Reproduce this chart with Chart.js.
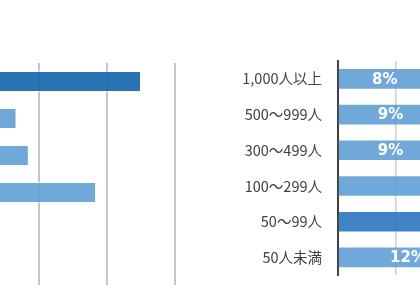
<!DOCTYPE html>
<html>
<head>
<meta charset="utf-8">
<script src="https://cdn.jsdelivr.net/npm/chart.js@4"></script>
<style>
html,body{margin:0;padding:0;background:#fff;overflow:hidden;width:420px;height:300px;}
canvas{position:absolute;top:0;}
#left{left:-110px;}
#right{left:200px;}
</style>
</head>
<body>
<canvas id="left" width="300" height="300" style="width:300px;height:300px"></canvas>
<canvas id="right" width="486" height="300" style="width:486px;height:300px"></canvas>
<script>
const categories = ["1,000人以上", "500～999人", "300～499人", "100～299人", "50～99人", "50人未満"];
const leftValues = [35, 16.7, 18.5, 28.4, 12, 9];
const rightValues = [8, 9, 9, 21, 28, 12];
const leftTicks = [0, 10, 20, 30, 40];
const rightTicks = [0, 5, 10, 15, 20, 25, 30];

function isMax(ctx, arr){ return arr[ctx.dataIndex] === Math.max(...arr); }

new Chart(document.getElementById('left'), {
  type: 'bar',
  data: { labels: categories, datasets: [{ data: leftValues,
    backgroundColor: c => isMax(c, leftValues) ? 'rgba(23,102,174,0.92)' : 'rgba(96,158,214,0.9)',
    borderColor: 'rgba(255,255,255,0.55)', borderWidth: 1, borderSkipped: false,
    barPercentage: 0.57, categoryPercentage: 1 }] },
  options: {
    indexAxis: 'y', responsive: false, animation: false, devicePixelRatio: 1,
    layout: { padding: { left: 13, right: 15, top: 63, bottom: 15 } },
    plugins: { legend: { display: false }, tooltip: { enabled: false } },
    scales: {
      x: { min: leftTicks[0], max: leftTicks[leftTicks.length-1],
           afterBuildTicks: s => { s.ticks = leftTicks.map(v => ({ value: v })); },
           afterFit: s => { s.height = 0; },
           ticks: { display: false }, border: { display: false },
           grid: { color: '#c6c6c6', lineWidth: 2, drawTicks: false } },
      y: { display: false }
    }
  }
});

const labelPlugin = {
  id: 'barLabels',
  afterDatasetsDraw(chart) {
    const ctx = chart.ctx;
    const meta = chart.getDatasetMeta(0);
    ctx.save();
    ctx.fillStyle = '#ffffff';
    ctx.font = 'bold 15px "DejaVu Sans"';
    ctx.textAlign = 'center';
    ctx.textBaseline = 'middle';
    meta.data.forEach((el, i) => {
      const x = (el.x + el.base) / 2;
      ctx.fillText(rightValues[i] + '%', x, el.y + 1);
    });
    ctx.restore();
  }
};

new Chart(document.getElementById('right'), {
  type: 'bar',
  data: { labels: categories, datasets: [{ data: rightValues,
    backgroundColor: c => isMax(c, rightValues) ? 'rgba(49,122,192,0.92)' : 'rgba(96,158,214,0.9)',
    borderWidth: 0, barPercentage: 0.55, categoryPercentage: 1 }] },
  options: {
    indexAxis: 'y', responsive: false, animation: false, devicePixelRatio: 1,
    layout: { padding: { left: 0, right: 0, top: 61, bottom: 19 } },
    plugins: { legend: { display: false }, tooltip: { enabled: false } },
    scales: {
      x: { min: rightTicks[0], max: rightTicks[rightTicks.length-1],
           afterBuildTicks: s => { s.ticks = rightTicks.map(v => ({ value: v })); },
           afterFit: s => { s.height = 0; },
           ticks: { display: false }, border: { display: false },
           grid: { color: c => c.tick && c.tick.value === 0 ? 'rgba(0,0,0,0)' : '#cfcfcf', lineWidth: 1.5, drawTicks: false } },
      y: { afterFit: s => { s.width = 138; },
           ticks: { color: '#404040', padding: 16, font: { family: '"Noto Sans CJK JP", "Noto Sans", sans-serif', size: 14.5 } },
           border: { display: true, color: '#404040', width: 2 },
           grid: { display: false, drawTicks: false } }
    }
  },
  plugins: [labelPlugin]
});
</script>
</body>
</html>
